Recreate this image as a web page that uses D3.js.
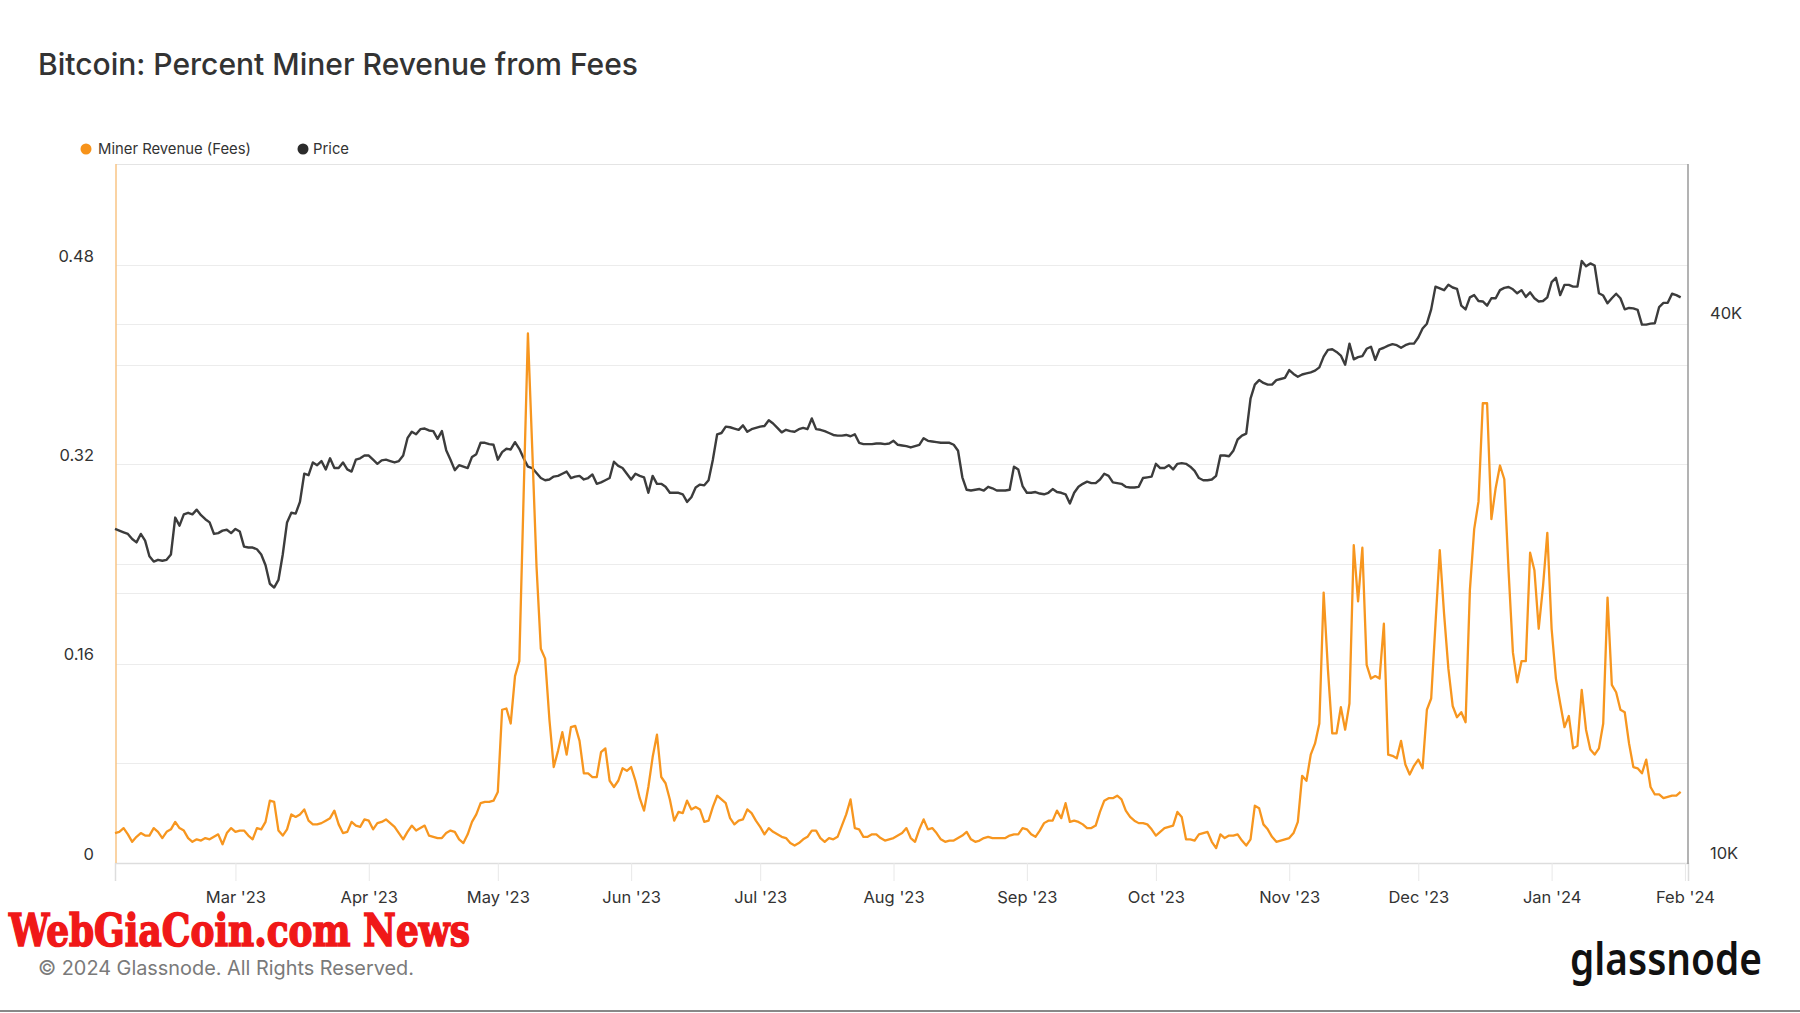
<!DOCTYPE html>
<html><head><meta charset="utf-8">
<script src="https://cdnjs.cloudflare.com/ajax/libs/d3/7.8.5/d3.min.js"></script>
<style>
html,body{margin:0;padding:0;background:#fff;}
svg{display:block;font-family:Inter,"Open Sans","Noto Sans",sans-serif;}
</style>
</head><body>
<svg id="chart" width="1800" height="1013"></svg>
<script>
// ---------- DATA (daily, starting 2023-02-01) ----------
const startDate = "2023-02-01";
const seriesNames = ["Miner Revenue (Fees)", "Price"];

// Share of miner revenue from fees (left axis)
const feeShare = [
.024,.025,.028,.023,.017,.021,.024,.022,.022,.028,
.025,.020,.025,.027,.033,.028,.026,.020,.017,.019,
.018,.020,.019,.021,.023,.015,.024,.028,.025,.026,
.026,.022,.019,.028,.027,.033,.050,.049,.026,.022,
.027,.039,.037,.039,.043,.034,.031,.031,.032,.034,
.036,.042,.031,.024,.025,.033,.030,.029,.035,.034,
.027,.032,.033,.035,.032,.029,.024,.019,.025,.030,
.026,.028,.030,.022,.021,.020,.020,.024,.026,.025,
.019,.016,.023,.033,.039,.048,.049,.049,.050,.057,
.123,.124,.112,.150,.162,.295,.425,.333,.238,.172,
.164,.115,.077,.090,.105,.087,.109,.110,.098,.072,
.072,.069,.069,.089,.092,.066,.061,.066,.076,.074,
.077,.066,.052,.042,.061,.085,.103,.069,.064,.051,
.034,.041,.040,.050,.043,.045,.043,.033,.034,.045,
.054,.051,.048,.036,.031,.034,.035,.043,.040,.034,
.029,.023,.028,.025,.023,.021,.020,.016,.014,.016,
.019,.021,.026,.026,.020,.017,.020,.019,.021,.030,
.039,.051,.028,.027,.021,.021,.023,.023,.020,.018,
.019,.020,.022,.024,.028,.020,.017,.027,.035,.027,
.028,.024,.019,.017,.018,.018,.020,.022,.025,.019,
.017,.018,.020,.021,.020,.020,.020,.020,.022,.023,
.023,.028,.027,.023,.021,.026,.032,.034,.034,.042,
.036,.048,.033,.034,.033,.031,.028,.028,.030,.041,
.050,.052,.052,.054,.051,.042,.037,.034,.032,.032,
.031,.027,.022,.025,.028,.029,.030,.041,.037,.019,
.019,.018,.023,.024,.025,.017,.012,.023,.020,.022,
.022,.023,.018,.014,.019,.046,.044,.031,.027,.021,
.017,.018,.019,.020,.024,.033,.070,.066,.087,.096,
.112,.217,.155,.104,.104,.125,.107,.128,.255,.210,
.253,.159,.148,.150,.148,.192,.087,.086,.084,.098,
.079,.071,.078,.083,.076,.123,.132,.192,.251,.200,
.156,.126,.117,.121,.113,.219,.268,.290,.369,.369,
.276,.301,.319,.308,.234,.169,.145,.162,.162,.249,
.235,.188,.222,.265,.188,.148,.128,.109,.118,.092,
.094,.139,.107,.091,.087,.092,.112,.213,.143,.137,
.123,.121,.096,.077,.076,.072,.083,.061,.055,.055,
.052,.053,.054,.054,.057
];

// BTC price in thousands of USD (right axis, log)
const priceK = [
23.6,23.5,23.4,23.3,23.0,22.8,23.3,22.9,22.0,21.7,
21.8,21.75,21.8,22.1,24.3,23.8,24.5,24.6,24.5,24.8,
24.45,24.2,24.0,23.3,23.35,23.5,23.55,23.35,23.6,23.45,
22.55,22.5,22.5,22.4,22.1,21.5,20.5,20.3,20.7,22.1,
24.0,24.6,24.55,25.3,27.2,27.1,28.0,27.8,28.1,27.5,
28.3,27.6,27.6,28.0,27.5,27.35,28.2,28.3,28.5,28.5,
28.2,27.9,28.15,28.2,28.1,28.0,28.1,28.5,29.8,30.3,
30.1,30.5,30.55,30.4,30.35,29.75,30.35,28.9,28.2,27.45,
27.8,27.7,27.6,28.4,28.6,29.45,29.45,29.35,29.3,28.2,
28.75,29.0,28.95,29.5,29.0,28.3,27.7,27.6,27.25,26.9,
26.75,26.8,27.0,27.05,27.2,27.35,26.9,27.0,27.05,26.8,
26.9,27.15,26.5,26.6,26.75,26.9,28.05,27.75,27.6,27.2,
26.8,27.2,27.05,26.95,25.9,27.05,26.5,26.5,26.3,25.9,
25.9,25.9,25.8,25.3,25.6,26.25,26.45,26.4,26.75,28.2,
30.1,30.2,30.7,30.65,30.55,30.45,30.8,30.3,30.5,30.6,
30.7,30.75,31.2,30.95,30.6,30.25,30.45,30.35,30.3,30.5,
30.6,30.5,31.35,30.5,30.45,30.35,30.2,30.05,30.0,30.0,
30.05,29.95,30.1,29.45,29.35,29.35,29.35,29.4,29.4,29.35,
29.4,29.6,29.3,29.25,29.2,29.1,29.2,29.3,29.8,29.6,
29.55,29.5,29.45,29.45,29.45,29.3,28.85,26.95,26.1,26.05,
26.1,26.15,26.05,26.3,26.2,26.05,26.05,26.05,26.1,27.7,
27.5,26.35,25.9,25.9,25.95,25.85,25.8,25.9,26.15,25.95,
25.9,25.8,25.2,25.9,26.3,26.5,26.65,26.55,26.55,26.8,
27.2,27.05,26.6,26.55,26.5,26.3,26.25,26.25,26.3,26.9,
26.95,27.0,27.9,27.6,27.6,27.8,27.5,27.9,27.95,27.9,
27.7,27.4,26.9,26.75,26.75,26.8,27.05,28.5,28.5,28.45,
28.85,29.7,30.0,30.15,33.0,34.2,34.6,34.35,34.2,34.2,
34.6,34.7,34.8,35.5,35.15,34.9,35.1,35.2,35.3,35.45,
35.75,36.75,37.4,37.45,37.2,36.85,36.0,38.0,36.5,36.7,
36.8,37.5,37.7,36.45,37.45,37.6,37.8,37.95,37.85,37.6,
37.85,38.0,38.0,38.6,39.5,40.0,41.5,44.0,43.8,43.6,
44.2,43.9,43.75,41.9,41.5,42.8,43.05,42.4,42.35,41.9,
42.7,42.7,43.6,43.85,43.95,43.7,43.25,43.6,42.85,43.35,
42.7,42.35,42.4,42.8,44.5,45.0,43.05,44.2,44.2,44.0,
44.0,47.0,46.35,46.7,46.45,43.25,43.0,42.15,42.7,43.2,
42.7,41.5,41.65,41.6,41.45,39.9,39.9,40.0,40.05,41.75,
42.2,42.2,43.2,43.05,42.8
];

const leftTickValues = [0, 0.16, 0.32, 0.48];
const leftGridValues = [0.08, 0.16, 0.24, 0.32, 0.40, 0.48];
const rightTickValues = [10, 40];
const rightGridValues = [20, 40];
const monthTicks = ["2023-03-01","2023-04-01","2023-05-01","2023-06-01","2023-07-01","2023-08-01",
  "2023-09-01","2023-10-01","2023-11-01","2023-12-01","2024-01-01","2024-02-01"];

// ---------- CHART ----------
const svg = d3.select("#chart");
const W = 1800, H = 1013;
const m = {left:116, right:1688, top:164, bottom:863};
const DAY = 864e5;
const t0 = Date.parse(startDate + "T00:00:00Z");
const dates = feeShare.map((_, i) => new Date(t0 + i * DAY));

const x = d3.scaleUtc()
  .domain([new Date(t0), new Date(Date.parse("2024-02-01T17:00:00Z"))])
  .range([115, m.right]);
const yL = d3.scaleLinear().domain([0, 0.561]).range([m.bottom, m.top]);
const yR = d3.scaleLog().domain([10, 60.3]).range([m.bottom, m.top]);

svg.append("rect").attr("width", W).attr("height", H).attr("fill", "#fff");

function fit(sel, target) {
  const n = sel.node();
  const fs = parseFloat(sel.attr("font-size"));
  const w = n.getComputedTextLength();
  if (w > 0) sel.attr("font-size", (fs * target / w).toFixed(2));
  return sel;
}

// title
fit(svg.append("text").attr("x", 38).attr("y", 75)
  .attr("font-size", 29).attr("fill", "#333").attr("font-weight", 500)
  .text("Bitcoin: Percent Miner Revenue from Fees"), 600);

// legend
const legend = svg.append("g");
const legItems = [
  {name: seriesNames[0], color: "#f7931a", cx: 86, tx: 98, w: 153},
  {name: seriesNames[1], color: "#2b2b2b", cx: 303, tx: 313, w: 36}
];
legItems.forEach(l => {
  legend.append("circle").attr("cx", l.cx).attr("cy", 149).attr("r", 5.5).attr("fill", l.color);
  fit(legend.append("text").attr("x", l.tx).attr("y", 149).attr("dy", "0.35em")
    .attr("font-size", 15).attr("fill", "#333").text(l.name), l.w);
});

// grid
const grid = svg.append("g");
grid.selectAll("line.gl").data(leftGridValues).join("line")
  .attr("x1", m.left).attr("x2", m.right)
  .attr("y1", d => Math.round(yL(d)) + 0.5).attr("y2", d => Math.round(yL(d)) + 0.5)
  .attr("stroke", "#ececec").attr("stroke-width", 1);
grid.selectAll("line.gr").data(rightGridValues).join("line")
  .attr("x1", m.left).attr("x2", m.right)
  .attr("y1", d => Math.round(yR(d)) + 0.5).attr("y2", d => Math.round(yR(d)) + 0.5)
  .attr("stroke", "#ececec").attr("stroke-width", 1);

svg.append("line").attr("x1", m.left).attr("x2", m.right).attr("y1", m.top + 0.5).attr("y2", m.top + 0.5)
  .attr("stroke", "#e4e4e4");

// x axis
const xAxis = svg.append("g").attr("transform", `translate(0,${m.bottom})`)
  .call(d3.axisBottom(x)
    .tickValues(monthTicks.map(s => new Date(Date.parse(s + "T00:00:00Z"))))
    .tickSize(18).tickPadding(10)
    .tickFormat(d3.utcFormat("%b '%y")));
xAxis.select(".domain").attr("stroke", "#dddddd").attr("stroke-width", 1.5);
xAxis.selectAll(".tick line").attr("stroke", "#e8e8e8");
xAxis.selectAll("text").attr("fill", "#333").attr("font-size", 16.5)
  .attr("font-family", "Inter, sans-serif");

// left axis labels
const yAxisL = svg.append("g").attr("transform", "translate(94,-9)")
  .call(d3.axisLeft(yL).tickValues(leftTickValues).tickSize(0).tickPadding(0)
    .tickFormat(d => d === 0 ? "0" : d3.format(".2f")(d)));
yAxisL.select(".domain").remove();
yAxisL.selectAll("text").attr("fill", "#333").attr("font-size", 16.5)
  .attr("font-family", "Inter, sans-serif");

// right axis labels
const yAxisR = svg.append("g").attr("transform", "translate(1710,-10)")
  .call(d3.axisRight(yR).tickValues(rightTickValues).tickSize(0).tickPadding(0)
    .tickFormat(d => d + "K"));
yAxisR.select(".domain").remove();
yAxisR.selectAll("text").attr("fill", "#333").attr("font-size", 16.5)
  .attr("font-family", "Inter, sans-serif");

// axis lines
svg.append("line").attr("x1", m.left).attr("x2", m.left).attr("y1", m.top).attr("y2", m.bottom)
  .attr("stroke", "#f9c585").attr("stroke-width", 1.5);
svg.append("line").attr("x1", m.right).attr("x2", m.right).attr("y1", m.top).attr("y2", m.bottom + 1)
  .attr("stroke", "#9a9a9a").attr("stroke-width", 1.5);

// lines
const priceLine = d3.line().x((d, i) => x(dates[i])).y(d => yR(d));
const feeLine = d3.line().x((d, i) => x(dates[i])).y(d => yL(d));

svg.append("path").datum(priceK).attr("d", priceLine)
  .attr("fill", "none").attr("stroke", "#3c3c3c").attr("stroke-width", 2.4)
  .attr("stroke-linejoin", "round");
svg.append("path").datum(feeShare).attr("d", feeLine)
  .attr("fill", "none").attr("stroke", "#f7961f").attr("stroke-width", 2.3)
  .attr("stroke-linejoin", "round");

// watermark
svg.append("text").attr("transform", "translate(9,946) scale(1,1.25)")
  .attr("font-family", "'DejaVu Serif Condensed','DejaVu Serif',serif").attr("font-weight", 900)
  .attr("font-size", 36).attr("fill", "#f01818").attr("stroke", "#f01818").attr("stroke-width", 1.2)
  .attr("textLength", 461).attr("lengthAdjust", "spacingAndGlyphs")
  .text("WebGiaCoin.com News");

// footer
fit(svg.append("text").attr("x", 38).attr("y", 968).attr("dy", "0.35em")
  .attr("font-size", 20).attr("fill", "#7a7a7a")
  .text("© 2024 Glassnode. All Rights Reserved."), 376);

svg.append("text").attr("x", 1570).attr("y", 975)
  .attr("font-family", "'Noto Sans',Inter,sans-serif").attr("font-weight", 600)
  .attr("font-size", 45).attr("fill", "#111")
  .attr("textLength", 192).attr("lengthAdjust", "spacingAndGlyphs")
  .text("glassnode");

svg.append("line").attr("x1", 0).attr("x2", W).attr("y1", 1011).attr("y2", 1011)
  .attr("stroke", "#888").attr("stroke-width", 2);
</script>
</body></html>
